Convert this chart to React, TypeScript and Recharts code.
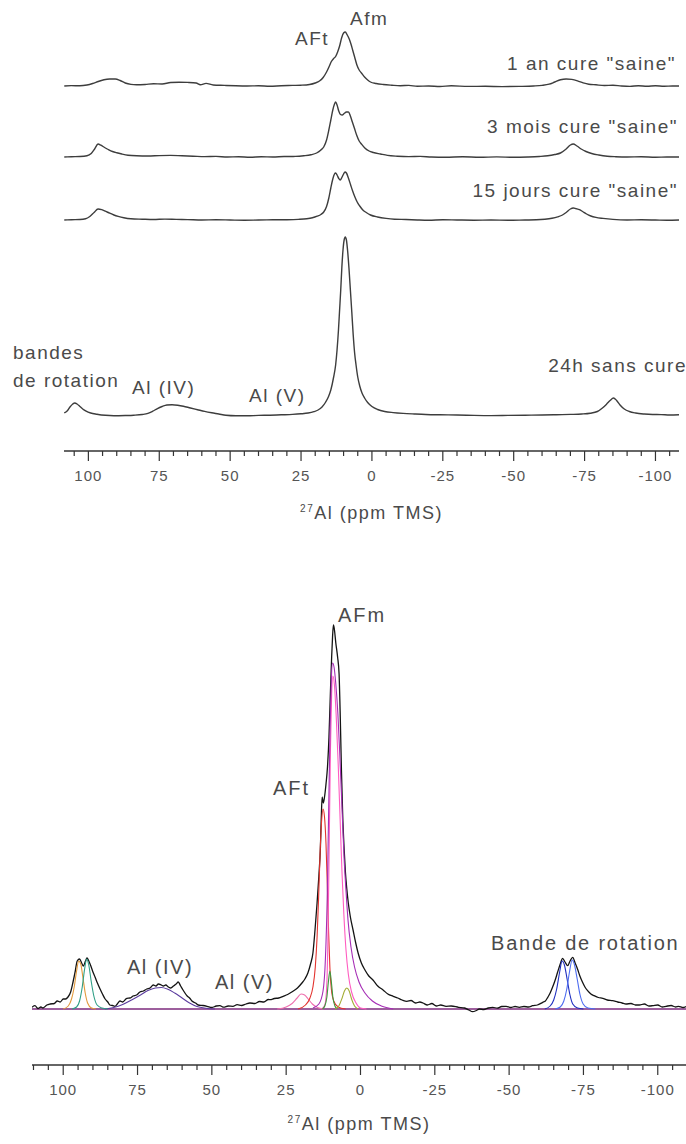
import { LineChart, Line, XAxis, YAxis, ReferenceLine } from 'recharts';

type Pt = [number, number];

// ppm ticks (minor every 5, labelled every 25)
const ppmTicks = [110, 105, 100, 95, 90, 85, 80, 75, 70, 65, 60, 55, 50, 45, 40, 35, 30, 25, 20, 15, 10, 5, 0,
  -5, -10, -15, -20, -25, -30, -35, -40, -45, -50, -55, -60, -65, -70, -75, -80, -85, -90, -95, -100, -105];
const labelledTicks = [100, 75, 50, 25, 0, -25, -50, -75, -100];

// top panel: four spectra (ppm, intensity)
const spec1an: Pt[] = [
  [108.5, 0], [106, 0.4], [103, 0.2], [100.5, 1], [98.5, 2.5], [96.5, 4.5], [94.5, 6.3], [92.5, 7], [90.5, 7],
  [88.8, 5.5], [87, 3], [85, 1.6], [83, 1.2], [80, 1.5], [77, 2.2], [74, 2], [71, 3.5], [68, 3.8], [65, 3.6],
  [62, 3], [60.5, 1.2], [58.5, 2.6], [56, 1], [52, 0.6], [48, 0.2], [44, 0], [40, 0.2], [36, -0.2], [32, 0.3],
  [28, 0.6], [25, 0.8], [22, 1.5], [20, 3], [18.5, 5], [17.2, 8.5], [16, 14], [15, 20], [14.3, 24.5], [13.5, 27.5],
  [12.8, 29.5], [12.1, 34], [11.4, 40], [10.7, 48], [10, 53], [9.4, 54], [8.7, 51], [8, 47], [7.4, 42], [6.8, 36],
  [6.1, 29], [5.3, 21], [4.5, 16], [3.7, 13], [2.6, 9], [1.5, 6], [0.5, 4], [-1.5, 2.5], [-4, 1.5], [-7, 0.8],
  [-10, 0.3], [-13, 0.6], [-16, -0.3], [-20, 0], [-24, -0.5], [-28, 0.2], [-34, -0.4], [-40, -0.3], [-46, -0.6],
  [-52, -0.4], [-57, 0], [-60, 0.6], [-62.5, 1.8], [-64.5, 4], [-66.5, 6.2], [-68.5, 7], [-70.5, 6.6], [-72.5, 5.2],
  [-74.5, 3.2], [-76.5, 1.8], [-79, 1.2], [-82, 0.5], [-85, 0.8], [-88, 0], [-91, -0.4], [-94, 0.3], [-97, -0.3],
  [-100, 0.2], [-103, -0.2], [-106, 0], [-108.3, 0],
];

const spec3mois: Pt[] = [
  [108.5, 0], [106, 0.3], [103, 0.5], [100.5, 1.2], [99, 3.5], [97.8, 8], [96.6, 13], [95.6, 11.8], [94.3, 9.5],
  [93, 7.5], [91.5, 5.5], [90, 4.2], [88.2, 3], [86, 1.8], [83, 1.2], [79, 1], [75, 1.4], [71, 1.6], [67, 1.2],
  [63, 0.8], [59, 0.4], [55, 0.6], [51, 0], [47, 0.2], [43, -0.2], [39, 0.2], [35, 0], [31, 0.5], [27, 0.6],
  [24, 1.2], [21.5, 2.2], [19.5, 4], [18, 7], [17, 10], [16, 17], [15.2, 27], [14.5, 37], [13.8, 47], [13.2, 53],
  [12.8, 55], [12.3, 52], [11.7, 46], [11.1, 42.5], [10.5, 42], [9.8, 43.5], [9, 45], [8.3, 45], [7.6, 41],
  [6.9, 35], [6.2, 29], [5.4, 22], [4.5, 16], [3.7, 13], [2.5, 9], [1, 6], [-0.5, 4.5], [-3, 3], [-5.5, 1.6],
  [-9, 0.8], [-13, 0.4], [-17, 0.6], [-21, 0], [-26, -0.2], [-32, 0.2], [-38, -0.3], [-44, 0.1], [-50, -0.3],
  [-55, 0], [-59, 0.5], [-62, 1.2], [-64.5, 2.5], [-66.5, 4], [-68.5, 8], [-70, 12], [-71, 13], [-72.3, 11],
  [-73.8, 8], [-75.5, 5.5], [-77.5, 3.5], [-80, 2], [-83, 0.8], [-86, 0.3], [-90, 0], [-95, 0.2], [-100, -0.2],
  [-104, 0], [-108.3, 0],
];

const spec15jours: Pt[] = [
  [108.5, 0], [106, 0.3], [103, 0.5], [101, 1.2], [99.5, 3.5], [98, 7.5], [96.6, 11], [95.3, 10.3], [94, 8.8],
  [92.5, 6.8], [91, 5], [89.5, 3.6], [87.5, 2.2], [85, 1.2], [81, 0.8], [77, 0.5], [73, 0.9], [69, 0.6], [65, 0.4],
  [60, 0], [55, 0.2], [50, 0], [45, -0.2], [40, 0], [35, 0.2], [30, 0.3], [26, 0.6], [23, 1.2], [21, 2.2],
  [19.3, 3.8], [18, 5.5], [17, 8], [16, 13.5], [15.2, 22], [14.5, 32], [13.8, 41], [13.2, 46], [12.8, 47],
  [12.3, 45], [11.7, 41.5], [11.2, 40], [10.6, 42.5], [10, 46], [9.5, 48], [9, 47], [8.3, 42], [7.5, 35],
  [6.8, 29], [6, 23], [5.2, 18], [4.3, 14], [3.2, 10], [2, 7.5], [0.5, 5], [-2, 3], [-5, 1.6], [-8, 0.8],
  [-12, 0.5], [-16, 0], [-20, -0.3], [-25, 0.2], [-30, 0], [-36, -0.2], [-42, 0], [-48, -0.3], [-54, 0],
  [-58, 0.2], [-61, 0.8], [-63.5, 1.8], [-65.5, 3.2], [-67.2, 5], [-68.7, 8], [-70, 11], [-71, 12], [-72, 11.3],
  [-73.2, 10.3], [-74.3, 8.5], [-75.7, 6], [-77.2, 4], [-79, 2.6], [-81.5, 1.6], [-85, 0.6], [-90, 0],
  [-95, 0.2], [-100, 0], [-104, -0.2], [-108.3, 0],
];

const spec24h: Pt[] = [
  [108.5, 2], [107.5, 4], [106.5, 8], [105.5, 11], [104.8, 12], [104, 11], [103, 8.5], [102, 6], [100.8, 3.8],
  [99.2, 2], [97, 0.8], [94, -0.3], [91, -0.7], [87, -0.5], [84, -0.2], [81, 0.5], [79, 1.6], [77.3, 3.8],
  [75.8, 6.2], [74, 8.5], [72.3, 10], [70.5, 10.3], [68.5, 9.8], [66.5, 8.8], [64, 7], [61.5, 5.3], [59, 3.6],
  [56.5, 2.2], [54, 1], [51.5, -0.3], [48, -0.8], [44, -0.8], [40, -0.4], [36, -0.2], [32, 0.2], [28, 0.6],
  [25, 1.2], [22.5, 2], [20.5, 3.3], [19, 5], [17.6, 8], [16.3, 13], [15.3, 18.5], [14.5, 25], [13.5, 38],
  [12.8, 50], [12.3, 65], [11.8, 85], [11.4, 105], [11, 125], [10.6, 148], [10.2, 165], [9.8, 175], [9.4, 178],
  [9, 175], [8.6, 165], [8.1, 147], [7.6, 125], [7.1, 103], [6.6, 80], [6.1, 62], [5.6, 50], [5, 38], [4.3, 29],
  [3.5, 22], [2.6, 17], [1.5, 12.5], [0, 8.5], [-2, 5.5], [-4.5, 3.5], [-7.5, 2.4], [-11, 1.6], [-15, 1],
  [-19, 0.5], [-24, 0.2], [-30, 0], [-36, -0.4], [-42, -0.6], [-48, -0.4], [-54, -0.2], [-60, 0], [-65, 0.3],
  [-70, 0.6], [-74, 1], [-77, 1.8], [-79.5, 3.5], [-81.3, 7], [-82.8, 11], [-84, 14.5], [-85.2, 17],
  [-86.3, 14.5], [-87.5, 10], [-89, 6], [-90.8, 3.5], [-93, 2], [-96, 1], [-99, 0.5], [-102, 0.4], [-105, 0],
  [-108.3, 0.2],
];

// bottom panel: experimental spectrum
const expSpectrum: Pt[] = [
  [110.5, 1.7], [109.5, 3.3], [108.5, 0.5], [107.5, 2], [106.8, 1], [105.5, 4], [104.4, 5], [103, 5.5], [102, 8],
  [101, 7], [100, 10], [99.2, 10], [98.4, 12], [97.5, 17], [96.7, 27], [96, 37], [95.3, 48], [94.5, 50],
  [93.8, 46], [93.2, 43], [92.5, 48], [92, 51], [91.4, 48], [90.7, 43], [90, 37], [89.3, 32], [88.5, 26],
  [87.6, 20], [86.8, 15], [85.9, 10], [85, 7], [84.3, 4], [83.4, 3.5], [82.6, 2.7], [81.8, 5], [80.9, 8],
  [80, 7], [78.6, 10.7], [77.5, 11], [76.5, 13], [75.3, 14], [74.2, 17], [73, 18], [71.9, 20], [70.8, 21],
  [69.7, 24], [68.8, 23], [68, 25], [67, 24], [66.3, 23], [65.5, 24], [64.6, 22], [63.8, 21], [62.9, 23],
  [62, 25], [61.3, 27], [60.5, 23], [59.7, 19], [58.3, 13], [57.5, 11], [56.7, 8], [55.5, 6], [54.6, 4],
  [53, 3.5], [51.6, 2.7], [50, 1.5], [48.5, 3], [47.3, 3.3], [46, 1.8], [44.5, 3], [42.9, 2.7], [41.5, 4.3],
  [40, 3.5], [38.5, 5], [37.2, 6], [35.5, 5.5], [34, 7.5], [32.5, 7], [31, 9.5], [30.4, 9.3], [29, 10.5],
  [27.5, 11], [26, 12.7], [24.5, 14.5], [22.7, 17.7], [21.2, 21], [19.7, 26], [18.7, 30], [17.7, 36],
  [16.8, 45], [16, 56], [15.3, 79], [14.6, 106], [14, 133], [13.5, 160], [13.2, 190], [12.9, 212], [12.5, 206],
  [12.1, 212], [11.6, 225], [11.1, 242], [10.6, 272], [10.1, 318], [9.7, 352], [9.4, 372], [9.1, 384],
  [8.8, 380], [8.3, 366], [7.7, 352], [7.2, 335], [6.8, 292], [6.4, 238], [6, 195], [5.5, 160], [5.1, 138],
  [4.6, 120], [4.1, 106], [3.4, 92], [2.5, 79], [1.6, 66], [0.8, 56], [-0.3, 46], [-1.5, 39], [-2.8, 33],
  [-4.2, 29], [-5.8, 23], [-7.6, 19], [-9.2, 15], [-11, 12.7], [-12.5, 11], [-14, 9], [-15.6, 7.7], [-17, 8.5],
  [-18.5, 6], [-20, 7], [-21, 6], [-22.5, 4], [-24, 5.5], [-25.5, 3], [-27, 4], [-28.8, 2.7], [-30.5, 3],
  [-33, 1.7], [-35, 1], [-36.5, -1], [-37.7, -2.7], [-39, -1.5], [-40, 0], [-41.5, -0.5], [-43, 1], [-44.5, 1.7],
  [-46, 0.8], [-47.5, 2.5], [-49, 2.7], [-50.5, 1.5], [-52, 2.5], [-53.4, 1.7], [-55, 2.5], [-56.5, 2],
  [-57.9, 3.3], [-59.5, 4], [-61.3, 6.7], [-62.2, 8], [-63, 11.7], [-63.8, 16], [-64.6, 21.7], [-65.5, 29],
  [-66.3, 36.7], [-67.2, 45], [-68, 50.7], [-68.8, 47], [-69.7, 43.3], [-70.5, 48], [-71.4, 51.7], [-72.2, 46],
  [-73, 40], [-73.8, 33], [-74.7, 26.7], [-75.5, 22], [-76.4, 18.3], [-77.5, 15], [-78.6, 13.3], [-80, 11.5],
  [-81.5, 10.7], [-83, 9], [-84.8, 8.3], [-86.5, 7], [-88, 6], [-89.3, 5], [-91, 5.5], [-92.5, 4], [-93.8, 4],
  [-95.5, 5], [-97, 3], [-98.3, 3.3], [-100, 4], [-101.5, 2], [-102.8, 2.7], [-104.5, 3.5], [-106, 2],
  [-107, 2.7], [-108.5, 1.5], [-109.5, 2.5],
];

// bottom panel: fitted components
const compBand1: Pt[] = [[100, 0], [98.3, 3], [97.2, 10], [96.3, 22], [95.5, 38], [94.8, 48], [94.1, 45], [93.4, 32], [92.6, 16], [91.8, 6], [90.5, 1], [89, 0]];
const compBand2: Pt[] = [[97, 0], [95.5, 2], [94.5, 8], [93.6, 22], [92.8, 40], [92.1, 50], [91.4, 44], [90.6, 28], [89.7, 13], [88.6, 4], [87, 1], [85, 0]];
const compAlIV: Pt[] = [[86, 0], [83, 1.5], [80, 4.5], [77, 9], [74, 14], [71.5, 18.5], [69, 21], [67, 21.5], [65, 20], [62.5, 16], [60, 11], [57.5, 6], [55, 2.5], [52, 0.8], [49, 0]];
const compAlV: Pt[] = [[28, 0], [25, 2], [23, 5.5], [21.3, 11], [20, 15], [18.8, 14], [17.6, 10], [16.2, 5], [14.5, 1.5], [12.5, 0]];
const compAFt: Pt[] = [[21, 0], [18.5, 4], [17, 11], [16, 22], [15.2, 42], [14.6, 72], [14.1, 110], [13.6, 155], [13.1, 187], [12.6, 200], [12.1, 192], [11.6, 165], [11.1, 118], [10.7, 75], [10.3, 42], [9.8, 20], [9, 8], [7.5, 2], [5, 0]];
const compAFmA: Pt[] = [[13, 0], [12, 4], [11.4, 20], [10.9, 80], [10.5, 170], [10.1, 260], [9.7, 315], [9.3, 333], [8.8, 325], [8.2, 295], [7.5, 245], [6.8, 185], [6.2, 135], [5.6, 95], [4.9, 60], [4.1, 35], [3, 17], [1.5, 6], [0, 1], [-2, 0]];
const compAFmB: Pt[] = [[16, 1], [14, 5], [12.6, 18], [11.8, 50], [11.2, 110], [10.7, 200], [10.2, 285], [9.8, 330], [9.4, 346], [8.9, 342], [8.3, 325], [7.6, 295], [6.9, 250], [6.2, 200], [5.5, 150], [4.8, 115], [4.2, 89], [3.2, 62], [2, 42], [0.5, 27], [-1.5, 16], [-4, 8], [-7, 3], [-11, 0]];
const compSmall1: Pt[] = [[12.8, 0], [12, 3], [11.3, 12], [10.8, 27], [10.3, 38], [9.8, 27], [9.3, 12], [8.6, 3], [7.8, 0]];
const compSmall2: Pt[] = [[8.5, 0], [7.3, 3], [6.3, 10], [5.4, 18], [4.6, 21], [3.8, 18], [3, 10], [2, 3], [0.8, 0]];
const compBand3: Pt[] = [[-62, 0], [-63.8, 3], [-65, 9], [-66, 20], [-67, 37], [-67.8, 48], [-68.6, 44], [-69.5, 30], [-70.4, 15], [-71.4, 5], [-73, 1], [-75, 0]];
const compBand4: Pt[] = [[-65.5, 0], [-67.2, 2], [-68.4, 8], [-69.4, 20], [-70.3, 37], [-71.2, 49], [-72, 44], [-72.9, 30], [-73.8, 15], [-74.9, 5], [-76.5, 1], [-79, 0]];

const FONT = '"Liberation Sans", Arial, sans-serif';
const TEXT = '#4a4a4a';

const rows = (pts: Pt[], offset = 0) => pts.map(([ppm, v]) => ({ ppm, v: v + offset }));

function PpmTick(props: any) {
  const { x, y, payload } = props;
  const v = payload.value as number;
  const major = labelledTicks.includes(v);
  return (
    <g>
      <line x1={x} x2={x} y1={y} y2={y + (major ? 10 : 5)} stroke="#333" strokeWidth={1.2} />
      {major && (
        <text x={x} y={y + 30} textAnchor="middle" fontSize={15} letterSpacing={1} fill="#555" fontFamily={FONT}>
          {v}
        </text>
      )}
    </g>
  );
}

const axisTitle = (dy: number) => (props: any) => {
  const vb = props.viewBox || { x: 0, y: 0, width: 0 };
  return (
    <text x={vb.x + vb.width / 2} y={vb.y + dy} textAnchor="middle" fill={TEXT} fontSize={18} letterSpacing={1.5} fontFamily={FONT}>
      <tspan fontSize={10} dy={-7}>27</tspan>
      <tspan dy={7}>Al (ppm TMS)</tspan>
    </text>
  );
};

function Note({ x, y, text, end = false, size = 19, spacing = 1.5 }: { x: number; y: number; text: string; end?: boolean; size?: number; spacing?: number }) {
  return (
    <div
      style={{
        position: 'absolute',
        left: end ? undefined : x,
        right: end ? 686 - x : undefined,
        top: y,
        transform: 'translateY(-50%)',
        fontSize: size,
        letterSpacing: spacing,
        lineHeight: 1,
        whiteSpace: 'pre',
        color: TEXT,
        fontFamily: FONT,
      }}
    >
      {text}
    </div>
  );
}

const topSeries = [
  { pts: spec1an, offset: 365 },
  { pts: spec3mois, offset: 294 },
  { pts: spec15jours, offset: 231 },
  { pts: spec24h, offset: 36 },
];

const components = [
  { pts: compAlIV, color: '#5b3c9e' },
  { pts: compBand1, color: '#e39a3c' },
  { pts: compBand2, color: '#2f9f86' },
  { pts: compAlV, color: '#ee6fae' },
  { pts: compAFt, color: '#e3342f' },
  { pts: compAFmA, color: '#ff5cc0' },
  { pts: compAFmB, color: '#a52db5' },
  { pts: compSmall1, color: '#3c9a3c' },
  { pts: compSmall2, color: '#a3ad35' },
  { pts: compBand3, color: '#1f2fbf' },
  { pts: compBand4, color: '#4d6cf0' },
];

export default function App() {
  const topDomain: [number, number] = [-108.3, 108.6];
  const botDomain: [number, number] = [-109.5, 110.5];
  return (
    <div style={{ position: 'absolute', left: 0, top: 0, width: 686, height: 1144, background: '#fff', fontFamily: FONT }}>
      <div style={{ position: 'absolute', left: 0, top: 0 }}>
        <LineChart width={686} height={540} margin={{ top: 0, right: 7, left: 64, bottom: 0 }}>
          <XAxis
            type="number"
            dataKey="ppm"
            domain={topDomain}
            reversed
            allowDataOverflow
            ticks={ppmTicks.filter((t) => t >= topDomain[0] && t <= topDomain[1])}
            interval={0}
            tick={(p: any) => <PpmTick {...p} />}
            tickLine={false}
            tickSize={0}
            tickMargin={0}
            height={89}
            axisLine={{ stroke: '#333', strokeWidth: 1.3 }}
            label={axisTitle(68)}
          />
          <YAxis hide type="number" domain={[0, 451]} allowDataOverflow />
          {topSeries.map((s, i) => (
            <Line
              key={i}
              data={rows(s.pts, s.offset)}
              dataKey="v"
              type="monotone"
              dot={false}
              stroke="#3d3d3d"
              strokeWidth={1.4}
              isAnimationActive={false}
            />
          ))}
        </LineChart>
      </div>

      <div style={{ position: 'absolute', left: 0, top: 600 }}>
        <LineChart width={686} height={560} margin={{ top: 0, right: 0, left: 32, bottom: 0 }}>
          <XAxis
            type="number"
            dataKey="ppm"
            domain={botDomain}
            reversed
            allowDataOverflow
            ticks={ppmTicks.filter((t) => t >= botDomain[0] && t <= botDomain[1])}
            interval={0}
            tick={(p: any) => <PpmTick {...p} />}
            tickLine={false}
            tickSize={0}
            tickMargin={0}
            height={95}
            axisLine={{ stroke: '#333', strokeWidth: 1.3 }}
            label={axisTitle(65)}
          />
          <YAxis hide type="number" domain={[-56, 409]} allowDataOverflow />
          <ReferenceLine y={0} stroke="#7d2a7d" strokeWidth={1.6} />
          <Line data={rows(expSpectrum)} dataKey="v" type="monotone" dot={false} stroke="#141414" strokeWidth={1.3} isAnimationActive={false} />
          {components.map((c, i) => (
            <Line
              key={i}
              data={rows(c.pts)}
              dataKey="v"
              type="monotone"
              dot={false}
              stroke={c.color}
              strokeWidth={1.1}
              isAnimationActive={false}
            />
          ))}
        </LineChart>
      </div>

      {/* top panel annotations */}
      <Note x={350} y={18} text="Afm" />
      <Note x={295} y={38} text="AFt" />
      <Note x={676} y={63} text={'1 an cure "saine"'} end />
      <Note x={678} y={126} text={'3 mois cure "saine"'} end />
      <Note x={678} y={190} text={'15 jours cure "saine"'} end />
      <Note x={13} y={352} text="bandes" />
      <Note x={13} y={380} text="de rotation" />
      <Note x={132} y={387} text="Al (IV)" />
      <Note x={249} y={395} text="Al (V)" />
      <Note x={687} y={365} text="24h sans cure" end />

      {/* bottom panel annotations */}
      <Note x={338} y={615} text="AFm" size={20} spacing={2} />
      <Note x={273} y={788} text="AFt" size={20} spacing={2} />
      <Note x={127} y={967} text="Al (IV)" size={20} spacing={1.5} />
      <Note x={215} y={982} text="Al (V)" size={20} spacing={1.5} />
      <Note x={491} y={943} text="Bande de rotation" size={20} spacing={1.8} />
    </div>
  );
}
